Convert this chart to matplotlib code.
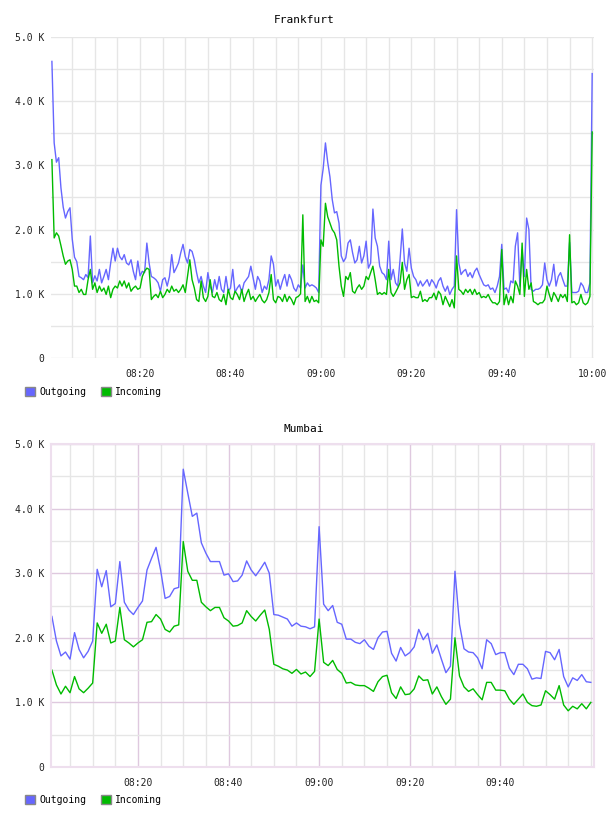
import numpy as np
import matplotlib
matplotlib.use("Agg")
import matplotlib.pyplot as plt
from matplotlib.patches import Patch
from matplotlib.ticker import FixedLocator

plt.rcParams['font.family'] = ['DejaVu Sans Mono']

# Frankfurt: 30 s samples from 08:00:30 to 10:00, values in K
fra_out = [4.62, 3.35, 3.05, 3.12, 2.65, 2.35, 2.18, 2.28, 2.34, 1.85, 1.57, 1.50, 1.27, 1.25, 1.22, 1.30, 1.25, 1.90, 1.17, 1.28,
           1.20, 1.38, 1.17, 1.27, 1.38, 1.22, 1.48, 1.71, 1.51, 1.71, 1.58, 1.53, 1.61, 1.48, 1.45, 1.53, 1.35, 1.22, 1.51, 1.28,
           1.35, 1.33, 1.79, 1.48, 1.27, 1.25, 1.22, 1.17, 1.04, 1.22, 1.25, 1.12, 1.27, 1.61, 1.33, 1.40, 1.48, 1.64, 1.77, 1.58,
           1.48, 1.69, 1.66, 1.53, 1.33, 1.17, 1.27, 1.12, 1.02, 1.33, 1.12, 1.02, 1.22, 1.07, 1.27, 1.07, 1.02, 1.27, 1.04, 1.09,
           1.38, 1.02, 1.09, 1.14, 1.02, 1.17, 1.22, 1.27, 1.43, 1.25, 1.07, 1.27, 1.20, 1.02, 1.12, 1.07, 1.22, 1.59, 1.46, 1.12,
           1.22, 1.07, 1.20, 1.30, 1.12, 1.30, 1.22, 1.09, 1.04, 1.14, 1.09, 1.45, 1.09, 1.17, 1.12, 1.14, 1.12, 1.09, 1.02, 2.69,
           2.95, 3.35, 3.05, 2.82, 2.47, 2.26, 2.28, 2.10, 1.59, 1.50, 1.56, 1.79, 1.84, 1.64, 1.48, 1.53, 1.74, 1.48, 1.59, 1.82,
           1.40, 1.48, 2.32, 1.87, 1.74, 1.43, 1.33, 1.30, 1.22, 1.82, 1.22, 1.38, 1.17, 1.12, 1.53, 2.01, 1.48, 1.35, 1.71, 1.40,
           1.27, 1.22, 1.12, 1.20, 1.12, 1.17, 1.22, 1.12, 1.22, 1.17, 1.09, 1.20, 1.25, 1.12, 1.04, 1.12, 0.99, 1.07, 1.12, 2.31,
           1.48, 1.30, 1.35, 1.38, 1.27, 1.33, 1.25, 1.35, 1.40, 1.30, 1.22, 1.14, 1.12, 1.14, 1.07, 1.09, 1.02, 1.12, 1.27, 1.77,
           1.07, 1.09, 1.02, 1.20, 1.17, 1.74, 1.95, 1.12, 1.69, 1.27, 2.18, 2.00, 1.07, 1.04, 1.07, 1.07, 1.09, 1.14, 1.48, 1.22,
           1.12, 1.22, 1.46, 1.12, 1.27, 1.33, 1.22, 1.12, 1.12, 1.80, 1.02, 1.02, 1.02, 1.04, 1.17, 1.12, 1.02, 1.02, 1.17, 4.43]
fra_in = [3.09, 1.87, 1.95, 1.90, 1.75, 1.59, 1.46, 1.51, 1.53, 1.38, 1.12, 1.12, 1.02, 1.07, 0.99, 0.99, 1.22, 1.38, 1.07, 1.17,
          1.02, 1.12, 1.04, 1.09, 0.99, 1.12, 0.94, 1.07, 1.12, 1.09, 1.20, 1.12, 1.20, 1.09, 1.17, 1.04, 1.09, 1.12, 1.07, 1.09,
          1.27, 1.35, 1.40, 1.38, 0.91, 0.96, 0.99, 0.94, 1.04, 0.94, 0.99, 1.07, 1.02, 1.12, 1.04, 1.07, 1.02, 1.07, 1.14, 1.02,
          1.27, 1.53, 1.22, 1.09, 0.91, 0.88, 1.20, 0.94, 0.88, 0.96, 1.22, 0.96, 0.94, 1.02, 0.91, 0.88, 0.99, 0.83, 1.07, 0.94,
          0.91, 1.04, 0.99, 0.91, 1.07, 0.88, 0.99, 1.07, 0.91, 0.96, 0.88, 0.94, 0.99, 0.90, 0.86, 0.91, 1.02, 1.30, 0.91, 0.86,
          0.96, 0.94, 0.88, 0.99, 0.88, 0.96, 0.91, 0.83, 0.94, 0.96, 1.00, 2.23, 0.88, 0.96, 0.86, 0.96, 0.88, 0.90, 0.86, 1.84,
          1.74, 2.41, 2.20, 2.10, 2.00, 1.95, 1.84, 1.43, 1.12, 0.96, 1.27, 1.22, 1.33, 1.04, 1.01, 1.09, 1.14, 1.07, 1.12, 1.27,
          1.22, 1.33, 1.43, 1.22, 0.99, 1.02, 0.99, 1.02, 0.99, 1.38, 1.02, 0.96, 1.02, 1.09, 1.17, 1.49, 1.07, 1.22, 1.30, 0.94,
          0.96, 0.94, 0.94, 1.04, 0.88, 0.91, 0.88, 0.94, 0.94, 1.01, 0.91, 1.04, 0.99, 0.83, 0.96, 0.88, 0.80, 0.91, 0.78, 1.59,
          1.07, 1.04, 0.99, 1.07, 1.02, 1.07, 0.99, 1.07, 0.99, 1.02, 0.94, 0.96, 0.94, 0.99, 0.91, 0.86, 0.86, 0.83, 0.88, 1.69,
          0.83, 0.99, 0.83, 0.96, 0.86, 1.20, 1.12, 0.99, 1.79, 0.96, 1.38, 1.07, 1.17, 0.88, 0.86, 0.83, 0.86, 0.86, 0.91, 1.12,
          0.99, 0.88, 1.02, 0.96, 0.88, 0.99, 0.94, 0.99, 0.88, 1.92, 0.86, 0.88, 0.83, 0.86, 0.99, 0.86, 0.83, 0.86, 0.96, 3.52]

# Mumbai: 1 min samples from 08:01 to 10:00, values in K
mum_out = [2.33, 1.95, 1.72, 1.78, 1.67, 2.08, 1.82, 1.69, 1.79, 1.95,
           3.06, 2.79, 3.04, 2.48, 2.53, 3.18, 2.55, 2.43, 2.36, 2.47,
           2.57, 3.05, 3.23, 3.40, 3.05, 2.61, 2.64, 2.76, 2.78, 4.61,
           4.24, 3.88, 3.93, 3.47, 3.31, 3.18, 3.18, 3.18, 2.97, 2.99,
           2.87, 2.88, 2.97, 3.19, 3.05, 2.96, 3.06, 3.17, 3.00, 2.36,
           2.35, 2.32, 2.29, 2.18, 2.23, 2.18, 2.17, 2.14, 2.17, 3.72,
           2.52, 2.42, 2.50, 2.24, 2.21, 1.98, 1.98, 1.93, 1.91, 1.97,
           1.87, 1.82, 2.00, 2.09, 2.10, 1.76, 1.64, 1.85, 1.72, 1.77,
           1.86, 2.13, 1.97, 2.07, 1.76, 1.89, 1.67, 1.46, 1.56, 3.03,
           2.21, 1.83, 1.78, 1.77, 1.69, 1.52, 1.97, 1.91, 1.74, 1.77,
           1.77, 1.53, 1.43, 1.59, 1.59, 1.52, 1.36, 1.38, 1.37, 1.79,
           1.77, 1.66, 1.82, 1.40, 1.24, 1.38, 1.34, 1.43, 1.32, 1.31]
mum_in = [1.50, 1.27, 1.13, 1.25, 1.15, 1.40, 1.21, 1.15, 1.22, 1.30,
          2.23, 2.07, 2.21, 1.92, 1.95, 2.47, 1.97, 1.92, 1.86, 1.92,
          1.97, 2.24, 2.25, 2.36, 2.29, 2.13, 2.09, 2.18, 2.20, 3.49,
          3.03, 2.89, 2.89, 2.55, 2.48, 2.42, 2.47, 2.47, 2.31, 2.26,
          2.18, 2.19, 2.23, 2.42, 2.33, 2.26, 2.35, 2.43, 2.13, 1.59,
          1.56, 1.52, 1.50, 1.45, 1.51, 1.44, 1.47, 1.40, 1.48, 2.29,
          1.62, 1.57, 1.65, 1.51, 1.45, 1.30, 1.31, 1.27, 1.26, 1.26,
          1.22, 1.17, 1.32, 1.40, 1.42, 1.15, 1.06, 1.24, 1.12, 1.13,
          1.21, 1.41, 1.34, 1.35, 1.13, 1.24, 1.09, 0.97, 1.05, 2.00,
          1.41, 1.24, 1.17, 1.21, 1.12, 1.04, 1.31, 1.31, 1.19, 1.19,
          1.18, 1.05, 0.97, 1.05, 1.13, 1.00, 0.95, 0.94, 0.96, 1.18,
          1.12, 1.05, 1.26, 0.96, 0.87, 0.94, 0.90, 0.98, 0.90, 1.00]

y_ticks = [0, 1000, 2000, 3000, 4000, 5000]
y_labels = ['0', '1.0 K', '2.0 K', '3.0 K', '4.0 K', '5.0 K']
fra_xticks = [20, 40, 60, 80, 100, 120]
fra_xlabels = ['08:20', '08:40', '09:00', '09:20', '09:40', '10:00']
mum_xticks = [20, 40, 60, 80, 100]
mum_xlabels = ['08:20', '08:40', '09:00', '09:20', '09:40']

OUT_C = '#6666ff'
IN_C = '#00bb00'

fra_t = 0.5 + 0.5 * np.arange(len(fra_out))
mum_t = 1 + np.arange(len(mum_out))

W, H = 608, 816
fig = plt.figure(figsize=(W / 100, H / 100), dpi=100)
ax1 = fig.add_axes([51 / W, 1 - 358 / H, 543 / W, 321 / H])
ax2 = fig.add_axes([51 / W, 1 - 767 / H, 543 / W, 323 / H])


def style(ax, xlim, xticks, xlabels, major_c, minor_c, ygrid_major):
    ax.set_xlim(*xlim)
    ax.set_ylim(0, 5000)
    ax.set_xticks(xticks, xlabels)
    ax.xaxis.set_minor_locator(FixedLocator([m for m in range(5, 121, 5) if m not in xticks]))
    ax.set_yticks(y_ticks, y_labels)
    ax.yaxis.set_minor_locator(FixedLocator([500, 1500, 2500, 3500, 4500]))
    ax.xaxis.grid(True, which='major', color=major_c, lw=1)
    ax.xaxis.grid(True, which='minor', color=minor_c, lw=1)
    ax.yaxis.grid(ygrid_major, which='major', color=major_c, lw=1)
    ax.yaxis.grid(True, which='minor', color=minor_c, lw=1)
    ax.tick_params(which='both', length=0, labelsize=7, colors='#222222')
    ax.tick_params(axis='y', pad=5)
    ax.tick_params(axis='x', pad=8)
    ax.set_axisbelow(True)


def legend(ax, y):
    handles = [Patch(facecolor=OUT_C, edgecolor='#888888', label='Outgoing'),
               Patch(facecolor=IN_C, edgecolor='#888888', label='Incoming')]
    ax.legend(handles=handles, loc='center left', bbox_to_anchor=(25 / W, 1 - y / H),
              bbox_transform=fig.transFigure, ncol=2, frameon=False, fontsize=7,
              handlelength=1.05, handleheight=1.05, handletextpad=0.4,
              columnspacing=1.5, borderpad=0, borderaxespad=0)


# Frankfurt
ax1.plot(fra_t, np.array(fra_out) * 1000, color=OUT_C, lw=1)
ax1.plot(fra_t, np.array(fra_in) * 1000, color=IN_C, lw=1)
style(ax1, (0.3, 120.4), fra_xticks, fra_xlabels, '#e6e6e6', '#e6e6e6', False)
for s in ax1.spines.values():
    s.set_visible(False)
fig.text(0.5, 1 - 20 / H, 'Frankfurt', ha='center', va='center', fontsize=8)
legend(ax1, 392)

# Mumbai
ax2.plot(mum_t, np.array(mum_out) * 1000, color=OUT_C, lw=1)
ax2.plot(mum_t, np.array(mum_in) * 1000, color=IN_C, lw=1)
style(ax2, (0.8, 120.7), mum_xticks, mum_xlabels, '#dfc9df', '#e6e6e6', True)
for s in ax2.spines.values():
    s.set_color('#eedfee')
    s.set_linewidth(1.5)
fig.text(0.5, 1 - 429 / H, 'Mumbai', ha='center', va='center', fontsize=8)
legend(ax2, 800)

fig.savefig('out.png', dpi=100)
